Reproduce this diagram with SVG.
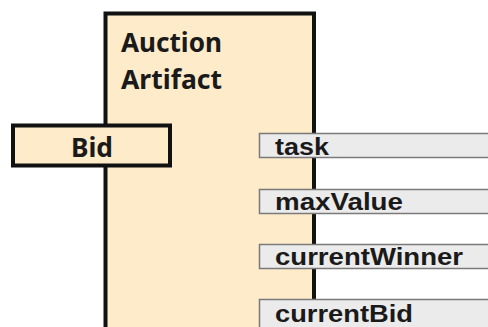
<svg xmlns="http://www.w3.org/2000/svg" width="488" height="327" viewBox="0 0 488 327">
<style>
.box{fill:#fdebc9;stroke:#111;stroke-width:4}
.title{font-family:"Noto Sans","Open Sans",sans-serif;font-weight:bold;font-size:27px;fill:#1a1a1a}
.prop{fill:#ebebeb;stroke:#7a7a7a;stroke-width:1.5}
.ptext{font-family:"Liberation Sans",Arial,sans-serif;font-weight:bold;font-size:24px;fill:#1a1a1a}
</style>
<rect width="488" height="327" fill="#fff"/>
<g id="artifact">
<rect class="box" x="105.5" y="13.5" width="208.5" height="330"/>
<text class="title" x="121" y="52" textLength="101" lengthAdjust="spacingAndGlyphs">Auction</text>
<text class="title" x="121" y="89" textLength="101" lengthAdjust="spacingAndGlyphs">Artifact</text>
</g>
<g id="connectors"></g>
<g id="bid">
<rect class="box" x="13" y="125.5" width="157" height="40"/>
<text class="title" x="71" y="157" textLength="42" lengthAdjust="spacingAndGlyphs">Bid</text>
</g>
<g id="task">
<rect class="prop" x="259.5" y="133.5" width="240" height="24"/>
<text class="ptext" x="275" y="155" textLength="54" lengthAdjust="spacingAndGlyphs">task</text>
</g>
<g id="maxValue">
<rect class="prop" x="259.5" y="189.5" width="240" height="24"/>
<text class="ptext" x="275" y="210" textLength="128" lengthAdjust="spacingAndGlyphs">maxValue</text>
</g>
<g id="currentWinner">
<rect class="prop" x="259.5" y="244.5" width="240" height="24"/>
<text class="ptext" x="275" y="265" textLength="188" lengthAdjust="spacingAndGlyphs">currentWinner</text>
</g>
<g id="currentBid">
<rect class="prop" x="259.5" y="299.5" width="240" height="40"/>
<text class="ptext" x="275" y="322" textLength="138" lengthAdjust="spacingAndGlyphs">currentBid</text>
</g>
</svg>
